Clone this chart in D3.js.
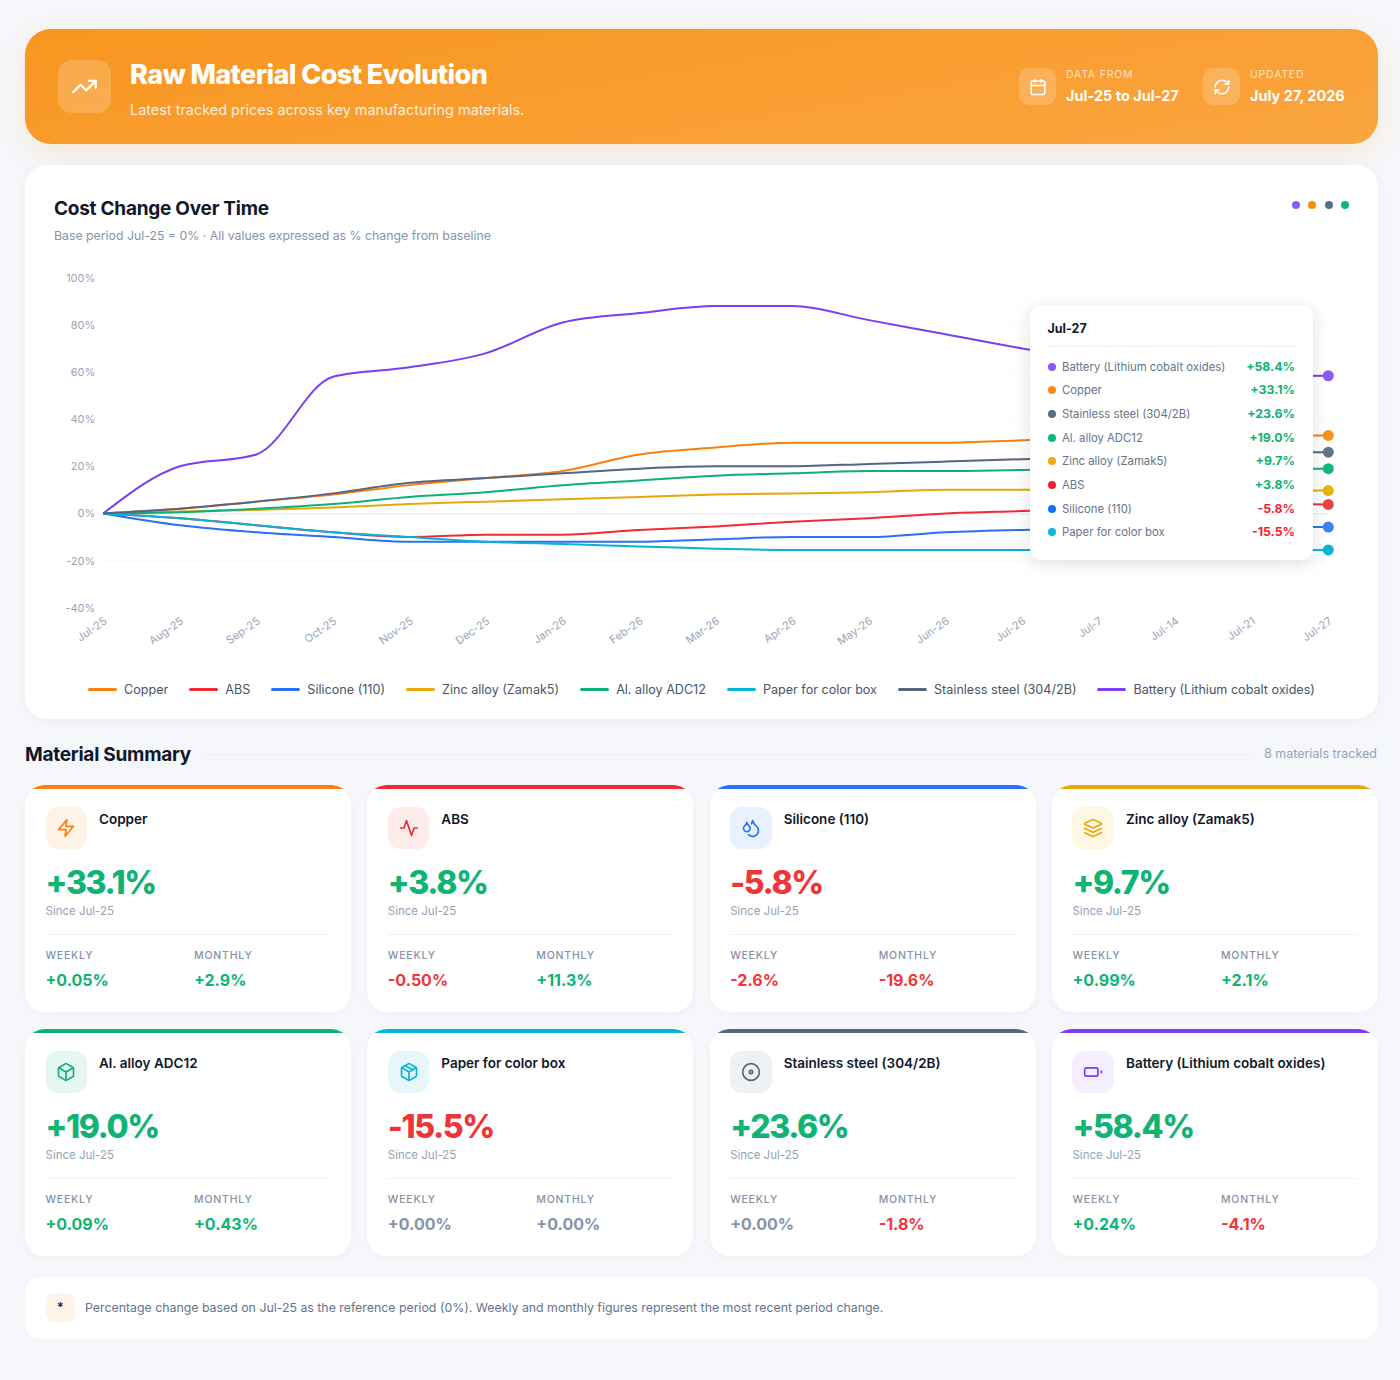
<!DOCTYPE html>
<html>

<head>
    <meta charset="UTF-8">
    <script src="https://d3js.org/d3.v7.min.js"></script>
    <style>
        * { box-sizing: border-box; margin: 0; padding: 0; }
        body { width: 1400px; height: 1380px; background: #f6f7fa; font-family: Inter, sans-serif; position: relative; overflow: hidden; }
        .abs { position: absolute; white-space: nowrap; }

        #header { left: 25px; top: 29px; width: 1353px; height: 115px; border-radius: 26px; background: linear-gradient(170deg, #f8961f 0%, #faa540 100%); box-shadow: 0 8px 28px rgba(249, 151, 30, .16); }
        .glass { background: rgba(255, 255, 255, .18); display: flex; align-items: center; justify-content: center; }
        .glass svg, .ic svg { fill: none; stroke-linecap: round; stroke-linejoin: round; stroke-width: 2; }

        #chart-card { left: 25px; top: 165px; width: 1353px; height: 554px; background: #fff; border-radius: 22px; box-shadow: 0 2px 14px rgba(15, 23, 42, .04); }
        #chart { position: absolute; left: 0; top: 0; }
        #legend { left: 25px; width: 1353px; top: 681.5px; display: flex; justify-content: center; gap: 21px; font-size: 12.6px; color: #475569; line-height: 16px; }
        #legend .item { display: flex; align-items: center; gap: 7px; }
        #legend i { display: block; width: 29px; height: 3px; border-radius: 2px; }

        #tooltip { left: 1030px; top: 305px; width: 283px; height: 255px; background: #fff; border-radius: 12px; box-shadow: 0 4px 18px rgba(15, 23, 42, .13); }

        .card { position: absolute; width: 326px; height: 227px; background: #fff; border-radius: 20px; overflow: hidden; box-shadow: 0 2px 10px rgba(15, 23, 42, .03); }
        .card .bar { position: absolute; left: 0; top: 0; width: 100%; height: 4px; }
        .card .ic { position: absolute; left: 20.5px; top: 22px; width: 41.5px; height: 41.5px; border-radius: 12px; display: flex; align-items: center; justify-content: center; }
        .card .name { position: absolute; left: 74px; top: 26px; font-size: 13.5px; font-weight: 600; color: #0f172a; white-space: nowrap; }
        .card .big { position: absolute; left: 20.5px; top: 76px; font-size: 32px; line-height: 44px; font-weight: 800; letter-spacing: -1.4px; white-space: nowrap; }
        .card .since { position: absolute; left: 20.5px; top: 118.5px; font-size: 11.5px; color: #94a3b8; }
        .card .rule { position: absolute; left: 20.5px; top: 149px; width: 285px; height: 1px; background: #eef0f4; }
        .card .lab { position: absolute; top: 164px; font-size: 10.5px; font-weight: 500; letter-spacing: .8px; color: #8492a6; }
        .card .val { position: absolute; top: 185px; font-size: 16px; font-weight: 700; white-space: nowrap; }
    </style>
</head>

<body>
    <!-- Header -->
    <div id="header" class="abs"></div>
    <div class="abs glass" style="left:58px;top:60px;width:53px;height:53px;border-radius:14px" id="icon-main"></div>
    <div class="abs" style="left:130px;top:57px;font-size:27px;line-height:36px;font-weight:800;letter-spacing:-.6px;color:#fff">Raw Material Cost Evolution</div>
    <div class="abs" style="left:130px;top:100px;font-size:14.45px;line-height:20px;color:rgba(255,255,255,.85)">Latest tracked prices across key manufacturing materials.</div>

    <div class="abs glass" style="left:1019px;top:68px;width:37px;height:37px;border-radius:10px" id="icon-cal"></div>
    <div class="abs" style="left:1066px;top:68px;font-size:10.5px;line-height:14px;letter-spacing:.8px;color:rgba(255,255,255,.7)">DATA FROM</div>
    <div class="abs" style="left:1066px;top:87px;font-size:14.5px;line-height:18px;font-weight:700;color:#fff">Jul-25 to Jul-27</div>
    <div class="abs glass" style="left:1203px;top:68px;width:37px;height:37px;border-radius:10px" id="icon-ref"></div>
    <div class="abs" style="left:1250px;top:68px;font-size:10.5px;line-height:14px;letter-spacing:.8px;color:rgba(255,255,255,.7)">UPDATED</div>
    <div class="abs" style="left:1250px;top:87px;font-size:14.5px;line-height:18px;font-weight:700;color:#fff">July 27, 2026</div>

    <!-- Chart card -->
    <div id="chart-card" class="abs"></div>
    <div class="abs" style="left:54px;top:197px;font-size:19px;line-height:24px;font-weight:700;letter-spacing:-.25px;color:#0f172a">Cost Change Over Time</div>
    <div class="abs" style="left:54px;top:227.5px;font-size:12.3px;line-height:16px;color:#8594aa">Base period Jul-25 = 0% · All values expressed as % change from baseline</div>
    <svg id="chart" width="1400" height="720"></svg>
    <div id="legend" class="abs"></div>
    <div id="tooltip" class="abs"></div>

    <!-- Summary -->
    <div class="abs" style="left:25px;top:743px;font-size:19px;line-height:24px;font-weight:700;letter-spacing:-.25px;color:#0f172a">Material Summary</div>
    <div class="abs" style="left:201px;top:754px;width:1051px;height:1px;background:#eef0f4"></div>
    <div class="abs" style="right:23px;top:746px;font-size:12.5px;line-height:16px;color:#94a3b8">8 materials tracked</div>
    <div id="cards"></div>

    <!-- Footnote -->
    <div class="abs" style="left:25px;top:1277px;width:1353px;height:62px;background:#fff;border-radius:16px"></div>
    <div class="abs" style="left:45.5px;top:1293px;width:29.5px;height:29px;background:#fff4e9;border-radius:8px;text-align:center;font-size:13px;line-height:29px;font-weight:600;color:#1e293b">*</div>
    <div class="abs" style="left:85px;top:1300px;font-size:12.33px;line-height:16px;color:#64748b">Percentage change based on Jul-25 as the reference period (0%). Weekly and monthly figures represent the most recent period change.</div>

    <script>
        // Chart data (% change from Jul-25), Jul-7 to Jul-21 are behind the tooltip so they are estimates
        let periods = ["Jul-25", "Aug-25", "Sep-25", "Oct-25", "Nov-25", "Dec-25", "Jan-26", "Feb-26", "Mar-26", "Apr-26", "May-26", "Jun-26", "Jul-26", "Jul-7", "Jul-14", "Jul-21", "Jul-27"];
        let copper = [0, 2, 5, 8, 12, 15, 18, 25, 28, 30, 30, 30, 31, 32, 33, 33, 33.1];
        let abs = [0, -2, -5, -8, -10, -9, -9, -7, -5.5, -3.5, -2, 0, 1, 2, 3, 4.3, 3.8];
        let silicone = [0, -5, -8, -10, -12, -12, -12, -12, -11, -10, -10, -8, -7, -6.5, -6, -5.7, -5.8];
        let zinc = [0, 0.8, 1.5, 2.5, 4, 5, 6, 7, 8, 8.5, 9, 10, 10, 10, 9.8, 9.6, 9.7];
        let alAlloy = [0, 0.5, 2, 4, 7, 9, 12, 14, 16, 17, 18, 18, 18.4, 18.7, 18.9, 19, 19];
        let paper = [0, -2, -5, -8, -10, -12, -13, -14, -15, -15.5, -15.5, -15.5, -15.5, -15.5, -15.5, -15.5, -15.5];
        let stainless = [0, 2, 5, 8.5, 13, 15, 17, 19, 20, 20, 21, 22, 23, 24, 25, 26, 26];
        let battery = [0, 20, 25, 58, 62, 68, 81, 85, 88, 88, 82, 76, 70, 65, 60, 58.2, 58.4];

        let yTicks = [100, 80, 60, 40, 20, 0, -20, -40];

        // Materials, same order as the legend and the cards
        let names = ["Copper", "ABS", "Silicone (110)", "Zinc alloy (Zamak5)", "Al. alloy ADC12", "Paper for color box", "Stainless steel (304/2B)", "Battery (Lithium cobalt oxides)"];
        let seriesValues = [copper, abs, silicone, zinc, alAlloy, paper, stainless, battery];
        // Printed change, stainless differs from where its line ends
        let sinceBase = [33.1, 3.8, -5.8, 9.7, 19.0, -15.5, 23.6, 58.4];
        let weekly = ["+0.05%", "-0.50%", "-2.6%", "+0.99%", "+0.09%", "+0.00%", "+0.00%", "+0.24%"];
        let monthly = ["+2.9%", "+11.3%", "-19.6%", "+2.1%", "+0.43%", "+0.00%", "-1.8%", "-4.1%"];

        // Styles
        let lineColors = ["#f97f0e", "#f12a35", "#2870f5", "#e9a80a", "#0db077", "#06b4d6", "#566680", "#7a3ff0"];
        let dotColors = ["#f7931e", "#ef4444", "#3b82f6", "#eab308", "#10b981", "#06b6d4", "#64748b", "#8b5cf6"];
        let tipDots = ["#f98a12", "#f81e32", "#0f73fb", "#f2ab0c", "#0bb877", "#0cb5db", "#5a6b84", "#8a58f4"];
        let tints = ["#fff3e6", "#feeceb", "#e9f1fe", "#fdf7e3", "#e6f7f1", "#e5f7fb", "#eff1f4", "#f3effe"];
        let UP = "#0fb374", DOWN = "#ef3538", FLAT = "#8493a8";

        let iconPaths = {
            trend: ["M22 7 13.5 15.5 8.5 10.5 2 17", "M16 7h6v6"],
            calendar: ["M8 2v4", "M16 2v4", "M5 4h14a2 2 0 0 1 2 2v14a2 2 0 0 1-2 2H5a2 2 0 0 1-2-2V6a2 2 0 0 1 2-2z", "M3 10h18"],
            refresh: ["M3 12a9 9 0 0 1 9-9 9.75 9.75 0 0 1 6.74 2.74L21 8", "M21 3v5h-5", "M21 12a9 9 0 0 1-9 9 9.75 9.75 0 0 1-6.74-2.74L3 16", "M8 16H3v5"],
            zap: ["M13 2 3 14h9l-1 8 10-12h-9l1-8z"],
            activity: ["M22 12h-4l-3 9L9 3l-3 9H2"],
            droplets: ["M7 16.3c2.2 0 4-1.83 4-4.05 0-1.16-.57-2.26-1.71-3.19S7.29 6.75 7 5.3c-.29 1.45-1.14 2.84-2.29 3.76S3 11.1 3 12.25c0 2.22 1.8 4.05 4 4.05z", "M12.56 6.6A10.97 10.97 0 0 0 14 3.02c.5 2.5 2 4.9 4 6.5s3 3.5 3 5.5a6.98 6.98 0 0 1-11.91 4.97"],
            layers: ["m12.83 2.18a2 2 0 0 0-1.66 0L2.6 6.08a1 1 0 0 0 0 1.83l8.58 3.91a2 2 0 0 0 1.66 0l8.58-3.9a1 1 0 0 0 0-1.83Z", "m22 17.65-9.17 4.16a2 2 0 0 1-1.66 0L2 17.65", "m22 12.65-9.17 4.16a2 2 0 0 1-1.66 0L2 12.65"],
            box: ["M21 8a2 2 0 0 0-1-1.73l-7-4a2 2 0 0 0-2 0l-7 4A2 2 0 0 0 3 8v8a2 2 0 0 0 1 1.73l7 4a2 2 0 0 0 2 0l7-4A2 2 0 0 0 21 16Z", "m3.3 7 8.7 5 8.7-5", "M12 22V12"],
            pack: ["M21 8a2 2 0 0 0-1-1.73l-7-4a2 2 0 0 0-2 0l-7 4A2 2 0 0 0 3 8v8a2 2 0 0 0 1 1.73l7 4a2 2 0 0 0 2 0l7-4A2 2 0 0 0 21 16Z", "m3.3 7 8.7 5 8.7-5", "M12 22V12", "m7.5 4.27 9 5.15"],
            disc: ["M22 12a10 10 0 1 1-20 0 10 10 0 0 1 20 0z", "M14 12a2 2 0 1 1-4 0 2 2 0 0 1 4 0z"],
            battery: ["M4 7h12a2 2 0 0 1 2 2v6a2 2 0 0 1-2 2H4a2 2 0 0 1-2-2V9a2 2 0 0 1 2-2z", "M22 11v2"]
        };
        let cardIcons = ["zap", "activity", "droplets", "layers", "box", "pack", "disc", "battery"];

        function drawIcon(parent, key, size, color) {
            let s = parent.append("svg")
                .attr("width", size).attr("height", size)
                .attr("viewBox", "0 0 24 24")
                .style("stroke", color);
            iconPaths[key].forEach(p => s.append("path").attr("d", p));
        }

        // d3.format would give a real minus sign, the picture has a hyphen
        function pct(v) {
            return (v >= 0 ? "+" : "") + v.toFixed(1) + "%";
        }

        drawIcon(d3.select("#icon-main"), "trend", 27, "#fff");
        drawIcon(d3.select("#icon-cal"), "calendar", 18, "#fff");
        drawIcon(d3.select("#icon-ref"), "refresh", 18, "#fff");

        // Chart
        let materials = names.map((name, i) => ({ name: name, values: seriesValues[i], line: lineColors[i], dot: dotColors[i], tip: tipDots[i], last: seriesValues[i][periods.length - 1], since: sinceBase[i], i: i }));

        let svg = d3.select("#chart");
        let x = d3.scalePoint().domain(periods).range([103.3, 1328.3]);
        let y = d3.scaleLinear().domain([-40, 100]).range([607.7, 277.7]);

        let yAxis = svg.append("g")
            .attr("transform", "translate(103.3,0)")
            .call(d3.axisLeft(y).tickValues(yTicks).tickSize(0).tickPadding(8).tickFormat(d => d + "%"));
        yAxis.select(".domain").remove();
        yAxis.selectAll("text").attr("fill", "#98a5b8").style("font-family", "Inter").style("font-size", "11px");
        yAxis.selectAll(".tick").append("line")
            .attr("x2", 1225)
            .attr("stroke", d => d == 0 ? "#e3e8f0" : "#f1f3f6")
            .attr("stroke-dasharray", d => d == 0 ? null : "4 4");

        let xAxis = svg.append("g")
            .attr("transform", "translate(0,607.7)")
            .call(d3.axisBottom(x).tickSize(0).tickPadding(0));
        xAxis.select(".domain").remove();
        xAxis.selectAll("text")
            .attr("fill", "#98a5b8")
            .attr("text-anchor", "end")
            .attr("dy", null).attr("y", 0)
            .attr("transform", "translate(4,15) rotate(-35)")
            .style("font-family", "Inter").style("font-size", "11px");

        let line = d3.line()
            .x((d, i) => x(periods[i]))
            .y(d => y(d))
            .curve(d3.curveMonotoneX);

        svg.append("g").selectAll("path")
            .data(materials)
            .enter()
            .append("path")
            .attr("fill", "none")
            .attr("stroke", d => d.line)
            .attr("stroke-width", 2)
            .attr("d", d => line(d.values));

        svg.append("g").selectAll("circle")
            .data(materials)
            .enter()
            .append("circle")
            .attr("cx", x(periods[periods.length - 1]))
            .attr("cy", d => y(d.last))
            .attr("r", 5.5)
            .attr("fill", d => d.dot);

        // Four dots at the top right of the card
        d3.select("body").selectAll(".topdot")
            .data([7, 0, 6, 4])
            .enter()
            .append("div")
            .attr("class", "abs topdot")
            .style("left", (d, i) => 1291.5 + i * 16.5 + "px")
            .style("top", "200.5px")
            .style("width", "8px").style("height", "8px").style("border-radius", "50%")
            .style("background", d => tipDots[d]);

        // Legend
        let items = d3.select("#legend").selectAll(".item")
            .data(materials)
            .enter()
            .append("div")
            .attr("class", "item");
        items.append("i").style("background", d => d.line);
        items.append("span").text(d => d.name);

        // Tooltip with the last period sorted high to low
        let tip = d3.select("#tooltip");
        tip.append("div").attr("class", "abs")
            .style("left", "17.5px").style("top", "15.5px")
            .style("font-size", "12.5px").style("line-height", "16px").style("font-weight", "700").style("color", "#0f172a")
            .text(periods[periods.length - 1]);
        tip.append("div").attr("class", "abs")
            .style("left", "17.5px").style("top", "41px").style("width", "248px").style("height", "1px").style("background", "#f1f3f6");

        let rows = tip.selectAll(".row")
            .data(materials.slice().sort((a, b) => d3.descending(a.since, b.since)))
            .enter()
            .append("div")
            .attr("class", "abs row")
            .style("left", "17.5px").style("width", "247.5px").style("height", "16px")
            .style("top", (d, i) => 53.5 + i * 23.7 + "px");
        rows.append("div").attr("class", "abs")
            .style("left", 0).style("top", "4px").style("width", "8px").style("height", "8px").style("border-radius", "50%")
            .style("background", d => d.tip);
        rows.append("div").attr("class", "abs")
            .style("left", "14.5px").style("top", 0).style("font-size", "11.35px").style("line-height", "16px").style("color", "#64748b")
            .text(d => d.name);
        rows.append("div").attr("class", "abs")
            .style("right", 0).style("top", 0).style("font-size", "12.3px").style("line-height", "16px").style("font-weight", "700")
            .style("color", d => d.since >= 0 ? "#0bb56f" : "#f81e32")
            .text(d => pct(d.since));

        // Summary cards
        function signColor(s) {
            if (parseFloat(s) == 0) return FLAT;
            return s[0] == "-" ? DOWN : UP;
        }

        let cards = d3.select("#cards").selectAll(".card")
            .data(materials)
            .enter()
            .append("div")
            .attr("class", "card")
            .style("left", d => 25 + (d.i % 4) * 342.33 + "px")
            .style("top", d => (d.i < 4 ? 785 : 1029) + "px");

        cards.append("div").attr("class", "bar").style("background", d => d.line);
        cards.append("div").attr("class", "ic").style("background", d => tints[d.i])
            .each(function (d) { drawIcon(d3.select(this), cardIcons[d.i], 20, d.line); });
        cards.append("div").attr("class", "name").text(d => d.name);
        cards.append("div").attr("class", "big")
            .style("color", d => d.since >= 0 ? UP : DOWN)
            .text(d => pct(d.since));
        cards.append("div").attr("class", "since").text("Since " + periods[0]);
        cards.append("div").attr("class", "rule");
        cards.append("div").attr("class", "lab").style("left", "20.5px").text("WEEKLY");
        cards.append("div").attr("class", "lab").style("left", "169px").text("MONTHLY");
        cards.append("div").attr("class", "val").style("left", "20.5px")
            .style("color", d => signColor(weekly[d.i]))
            .text(d => weekly[d.i]);
        cards.append("div").attr("class", "val").style("left", "169px")
            .style("color", d => signColor(monthly[d.i]))
            .text(d => monthly[d.i]);
    </script>

</body>

</html>
